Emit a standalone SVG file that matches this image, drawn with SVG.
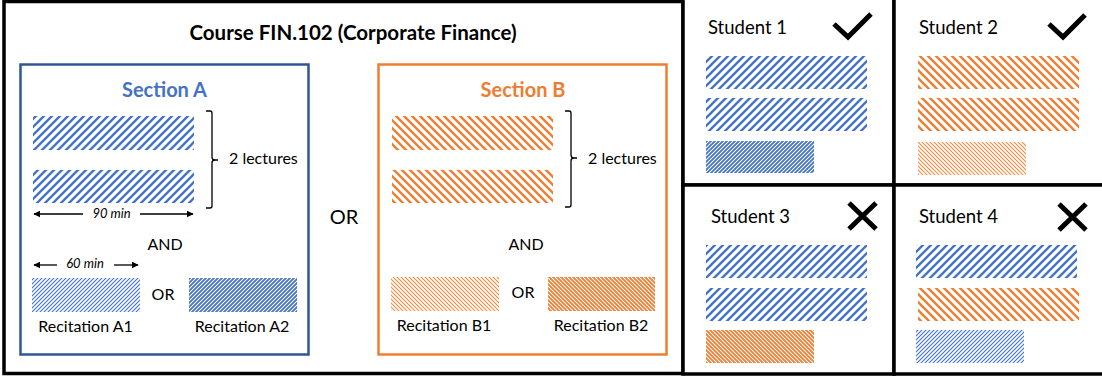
<svg xmlns="http://www.w3.org/2000/svg" width="1102" height="377" viewBox="0 0 1102 377">
  <style>
    text { font-family: Lato, "Open Sans", "Liberation Sans", sans-serif; fill: #000; }
    .title { font-size: 20.5px; font-weight: bold; }
    .sec { font-size: 20px; font-weight: bold; }
    .lbl { font-size: 16px; }
    .big { font-size: 20px; }
    .dur { font-size: 13px; font-style: italic; }
    .stu { font-size: 18.5px; }
    .frame { fill: #fff; stroke: #000; stroke-width: 3.5; }
    .line { fill: none; stroke: #000; stroke-width: 1.3; }
    .mark { fill: none; stroke: #000; stroke-width: 5; }
  </style>
  <defs>
    <!-- lecture hatch: wide diagonals, 8px period -->
    <pattern id="lecA" width="8" height="8" patternUnits="userSpaceOnUse">
      <path d="M-2,2 L2,-2 M0,8 L8,0 M6,10 L10,6" stroke="#4472C4" stroke-width="2.3"/>
    </pattern>
    <pattern id="lecB" width="8" height="8" patternUnits="userSpaceOnUse">
      <path d="M-2,6 L2,10 M0,0 L8,8 M6,-2 L10,2" stroke="#ED7D31" stroke-width="2.3"/>
    </pattern>
    <!-- recitation hatch: fine diagonals, 4px period, light and dark -->
    <pattern id="recA1" width="4" height="4" patternUnits="userSpaceOnUse">
      <path d="M-1,1 L1,-1 M0,4 L4,0 M3,5 L5,3" stroke="#3D6FD6" stroke-width="1.1"/>
    </pattern>
    <pattern id="recA2" width="4" height="4" patternUnits="userSpaceOnUse">
      <path d="M-1,1 L1,-1 M0,4 L4,0 M3,5 L5,3" stroke="#4472C4" stroke-width="1.8"/>
    </pattern>
    <pattern id="recB1" width="4" height="4" patternUnits="userSpaceOnUse">
      <path d="M-1,3 L1,5 M0,0 L4,4 M3,-1 L5,1" stroke="#F58A3F" stroke-width="1.1"/>
    </pattern>
    <pattern id="recB2" width="4" height="4" patternUnits="userSpaceOnUse">
      <path d="M-1,3 L1,5 M0,0 L4,4 M3,-1 L5,1" stroke="#ED7D31" stroke-width="1.8"/>
    </pattern>
    <marker id="tip" viewBox="0 0 10 10" refX="9" refY="5" markerWidth="7" markerHeight="7" markerUnits="userSpaceOnUse" orient="auto">
      <path d="M0,0 L10,5 L0,10 Z" fill="#000"/>
    </marker>
  </defs>

  <!-- course container -->
  <g id="course">
    <rect class="frame" x="4" y="1.5" width="679" height="372"/>
    <text class="title" x="353" y="40" text-anchor="middle">Course FIN.102 (Corporate Finance)</text>
    <text class="big" x="344" y="224" text-anchor="middle">OR</text>
  </g>

  <!-- section A -->
  <g id="section-a">
    <rect x="20.5" y="64.5" width="288" height="290" fill="#fff" stroke="#2F5597" stroke-width="2.5"/>
    <text class="sec" x="164.5" y="97" text-anchor="middle" style="fill:#4472C4">Section A</text>
    <rect x="33" y="116" width="161" height="34" fill="url(#lecA)"/>
    <rect x="33" y="170" width="161" height="33" fill="url(#lecA)"/>
    <text class="lbl" x="229" y="164">2 lectures</text>
    <text class="dur" x="111.5" y="218" text-anchor="middle">90 min</text>
    <text class="lbl" x="165" y="250" text-anchor="middle">AND</text>
    <text class="dur" x="85" y="268" text-anchor="middle">60 min</text>
    <rect x="32" y="278" width="108" height="34" fill="url(#recA1)"/>
    <text class="lbl" x="163" y="300" text-anchor="middle">OR</text>
    <rect x="189" y="278" width="108" height="34" fill="url(#recA2)"/>
    <text class="lbl" x="85.5" y="332" text-anchor="middle">Recitation A1</text>
    <text class="lbl" x="242" y="332" text-anchor="middle">Recitation A2</text>
  </g>

  <!-- section B -->
  <g id="section-b">
    <rect x="378.5" y="64.5" width="288" height="290" fill="#fff" stroke="#ED7D31" stroke-width="2.5"/>
    <text class="sec" x="523" y="97" text-anchor="middle" style="fill:#ED7D31">Section B</text>
    <rect x="392" y="116" width="161" height="34" fill="url(#lecB)"/>
    <rect x="392" y="170" width="161" height="33" fill="url(#lecB)"/>
    <text class="lbl" x="588" y="164">2 lectures</text>
    <text class="lbl" x="526" y="250" text-anchor="middle">AND</text>
    <rect x="391" y="277" width="108" height="34" fill="url(#recB1)"/>
    <text class="lbl" x="523" y="298" text-anchor="middle">OR</text>
    <rect x="548" y="277" width="107" height="34" fill="url(#recB2)"/>
    <text class="lbl" x="444" y="331" text-anchor="middle">Recitation B1</text>
    <text class="lbl" x="601" y="331" text-anchor="middle">Recitation B2</text>
  </g>

  <!-- brackets and duration arrows -->
  <g id="connectors">
    <path class="line" d="M206,111 H210 Q212,111 212,113 V157 Q212,160 215,160 H218 M215,160 Q212,160 212,163 V206 Q212,208 210,208 H206"/>
    <path class="line" d="M565,111 H569 Q571,111 571,113 V155 Q571,158 574,158 H577 M574,158 Q571,158 571,161 V205 Q571,207 569,207 H565"/>
    <line class="line" x1="83" y1="214" x2="34" y2="214" marker-end="url(#tip)"/>
    <line class="line" x1="140" y1="214" x2="193" y2="214" marker-end="url(#tip)"/>
    <line class="line" x1="57" y1="265" x2="34" y2="265" marker-end="url(#tip)"/>
    <line class="line" x1="114" y1="265" x2="138" y2="265" marker-end="url(#tip)"/>
  </g>

  <!-- student 1: section A, recitation A2 -->
  <g id="student-1">
    <rect class="frame" x="683" y="-5" width="211" height="190"/>
    <text class="stu" x="708" y="34">Student 1</text>
    <polyline class="mark" points="834,24 848,37 871,14"/>
    <rect x="706" y="56" width="161" height="33" fill="url(#lecA)"/>
    <rect x="706" y="98" width="161" height="33" fill="url(#lecA)"/>
    <rect x="706" y="141" width="108" height="32" fill="url(#recA2)"/>
  </g>

  <!-- student 2: section B, recitation B1 -->
  <g id="student-2">
    <rect class="frame" x="894" y="-5" width="215" height="190"/>
    <text class="stu" x="919" y="34">Student 2</text>
    <polyline class="mark" points="1049,24 1063,37 1085,15"/>
    <rect x="918" y="56" width="161" height="33" fill="url(#lecB)"/>
    <rect x="918" y="98" width="161" height="33" fill="url(#lecB)"/>
    <rect x="918" y="142" width="108" height="33" fill="url(#recB1)"/>
  </g>

  <!-- student 3: section A lectures with recitation B2 -->
  <g id="student-3">
    <rect class="frame" x="683" y="185" width="211" height="189"/>
    <text class="stu" x="711" y="223">Student 3</text>
    <path class="mark" d="M849,203 L876,229 M876,203 L849,229"/>
    <rect x="706" y="245" width="161" height="33" fill="url(#lecA)"/>
    <rect x="706" y="288" width="161" height="33" fill="url(#lecA)"/>
    <rect x="706" y="330" width="108" height="33" fill="url(#recB2)"/>
  </g>

  <!-- student 4: mixed lectures with recitation A1 -->
  <g id="student-4">
    <rect class="frame" x="894" y="185" width="215" height="189"/>
    <text class="stu" x="919" y="223">Student 4</text>
    <path class="mark" d="M1059,204 L1086,230 M1086,204 L1059,230"/>
    <rect x="916" y="245" width="161" height="33" fill="url(#lecA)"/>
    <rect x="918" y="288" width="161" height="33" fill="url(#lecB)"/>
    <rect x="916" y="330" width="108" height="33" fill="url(#recA1)"/>
  </g>
</svg>
